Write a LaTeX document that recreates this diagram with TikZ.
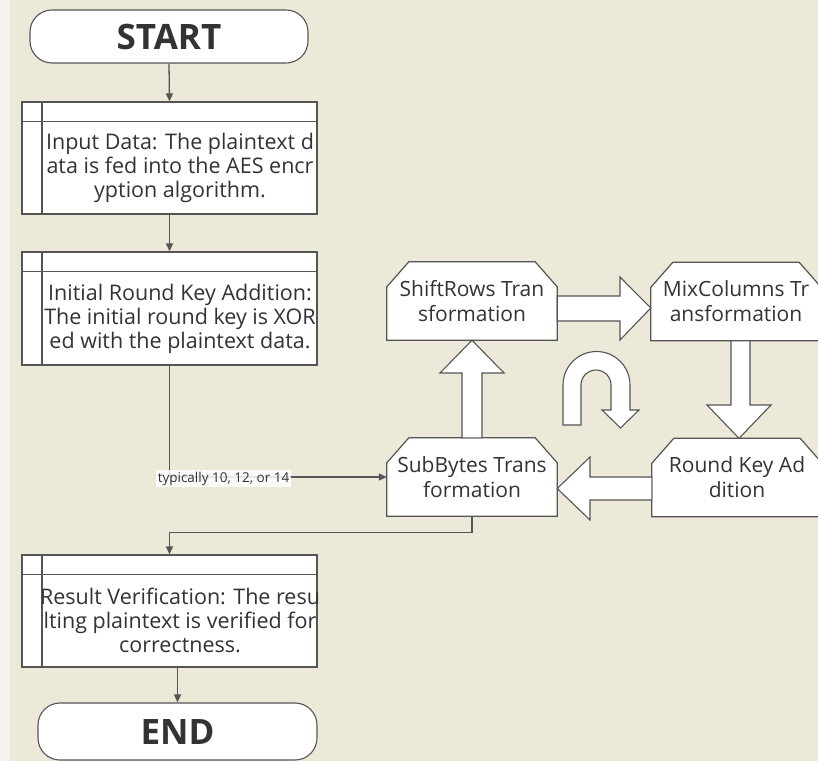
\documentclass[tikz,border=0pt]{standalone}
\usepackage{fontspec}
\setmainfont{Open Sans}
\usetikzlibrary{arrows.meta,calc}
\definecolor{bgc}{HTML}{ECE9D8}
\definecolor{strip}{HTML}{F4F3EE}
\definecolor{edge}{HTML}{555555}
\definecolor{txt}{HTML}{333333}
\pgfdeclarelayer{bg}
\pgfsetlayers{bg,main}
\newcommand\chamf[1]{%
  \begin{pgfonlayer}{bg}
    \draw[shapeline] ([xshift=22pt]#1.north west) -- ([xshift=-22pt]#1.north east)
      -- ([yshift=-25pt]#1.north east) -- (#1.south east) -- (#1.south west)
      -- ([yshift=-25pt]#1.north west) -- cycle;
  \end{pgfonlayer}}
\newcommand\procparts[1]{%
  \draw[edge, line width=1.2pt] ([yshift=-20pt]#1.north west) -- ([yshift=-20pt]#1.north east);
  \draw[edge, line width=1.8pt] ([xshift=21pt]#1.north west) -- ([xshift=21pt]#1.south west);}
\begin{document}
\begin{tikzpicture}[x=1pt,y=-1pt,
  termbox/.style={draw=edge, line width=1.1pt, fill=white, rounded corners=22pt, inner sep=0pt,
    font=\fontsize{35}{35}\selectfont\bfseries, text=txt},
  procbox/.style={draw=edge, line width=1.3pt, fill=white, inner sep=0pt,
    minimum width=295pt},
  proctext/.style={align=center, font=\fontsize{21.5}{23.8}\selectfont, text=txt, inner sep=0pt},
  stepbox/.style={draw=none, minimum width=170pt, minimum height=78pt, inner sep=0pt,
    align=center, font=\fontsize{21}{25}\selectfont, text=txt},
  shapeline/.style={draw=edge, line width=1.2pt, fill=white, line join=miter},
  blockarrow/.style={draw=edge, line width=1.1pt, fill=white, line join=miter},
  conn/.style={draw=edge, line width=1.3pt, -{Triangle[length=8pt,width=7pt]}},
  lab/.style={fill=white, fill opacity=0.85, text opacity=1, inner sep=1.5pt,
    font=\fontsize{13.5}{14}\selectfont, text=txt}
]
\begin{pgfonlayer}{bg}
  \fill[bgc] (0,0) rectangle (818,761);
  \fill[strip] (0,0) rectangle (10,761);
\end{pgfonlayer}
\clip (0,0) rectangle (818,761);

% terminals
\node[termbox, minimum width=278pt, minimum height=53pt] (start) at (169,36.5) {START};
\node[termbox, minimum width=279pt, minimum height=57pt] (end) at (177.5,731.5) {END};

% process boxes
\node[procbox, minimum height=112pt] (inp) at (169.5,158) {};
\procparts{inp}
\node[proctext] (inptxt) at (180,168) {Input Data: The plaintext d\\ata is fed into the AES encr\\yption algorithm.};

\node[procbox, minimum height=113pt] (ini) at (169.5,308.5) {};
\procparts{ini}
\node[proctext] (initxt) at (180,319) {Initial Round Key Addition:\\The initial round key is XOR\\ed with the plaintext data.};

\node[procbox, minimum height=112pt] (res) at (169.5,611) {};
\procparts{res}
\node[proctext] (restxt) at (180,620.5) {Result Verification: The resu\\lting plaintext is verified for\\correctness.};

% round steps
\node[stepbox] (SR) at (472,301) {ShiftRows Tran\\sformation};
\chamf{SR}
\node[stepbox] (MC) at (736,301.5) {MixColumns Tr\\ansformation};
\chamf{MC}
\node[stepbox] (SB) at (472,477) {SubBytes Trans\\formation};
\chamf{SB}
\node[stepbox] (RK) at (737,477.5) {Round Key Ad\\dition};
\chamf{RK}

% connectors
\draw[conn] (start.south) -- (inp.north);
\draw[conn] (inp.south) -- (ini.north);
\draw[conn] (ini.south) |- (SB.west);
\node[lab] (cnt) at (223.5,478.5) {typically 10, 12, or 14};
\draw[conn] (SB.south) -- ++(0,16) -| (res.north);
\draw[conn] (end.north |- res.south) -- (end.north);

% block arrows
\draw[blockarrow] let \p1=(SR.east), \p2=(MC.west) in
  (\x1,296) -- (620,296) -- (620,277) -- (\x2,308) -- (620,340) -- (620,321) -- (\x1,321) -- cycle;
\draw[blockarrow] let \p1=(MC.south), \p2=(RK.north) in
  (731,\y1) -- (731,405) -- (707,405) -- (739,\y2) -- (771,405) -- (750,405) -- (750,\y1) -- cycle;
\draw[blockarrow] let \p1=(RK.west), \p2=(SB.east) in
  (\x1,477) -- (590,477) -- (590,457) -- (\x2,488.5) -- (590,520) -- (590,500) -- (\x1,500) -- cycle;
\draw[blockarrow] let \p1=(SB.north), \p2=(SR.south) in
  (462,\y1) -- (462,373) -- (440,373) -- (472,\y2) -- (504,373) -- (482,373) -- (482,\y1) -- cycle;
% U-turn
\draw[blockarrow] (563,425) -- (563,385) arc[start angle=180, end angle=0, radius=33.5pt]
  -- (630,410) -- (639,410) -- (620.5,428) -- (602,410) -- (611,410) -- (611,385)
  arc[start angle=0, end angle=180, radius=15pt] -- (581,425) -- cycle;
\end{tikzpicture}
\end{document}
